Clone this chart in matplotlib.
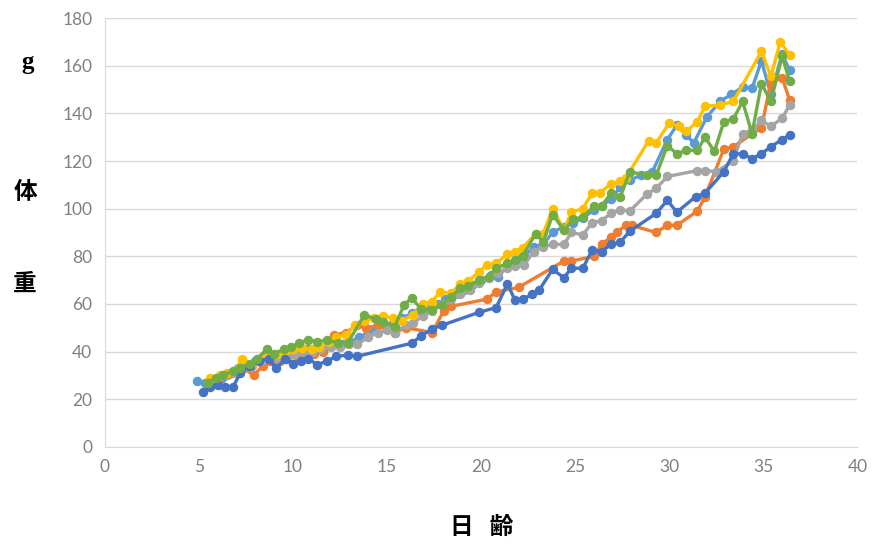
import matplotlib
matplotlib.use("Agg")
import matplotlib.pyplot as plt

plt.rcParams['font.family'] = ['Noto Sans CJK JP', 'DejaVu Sans']

# data (day of age, body weight g)
s1_x = [4.9, 5.3, 5.8, 6.2, 6.7, 7.1, 7.6, 8.0, 8.5, 9.0, 9.4, 9.9, 10.3, 10.8, 11.2, 11.7, 12.1, 12.6, 13.0,
        13.5, 14.0, 14.4, 14.9, 15.3, 15.8, 16.3, 16.7, 17.2, 17.7, 18.1, 18.6, 19.1, 19.5, 20.0, 20.5, 20.9,
        21.4, 21.9, 22.3, 22.8, 23.3, 23.8, 24.4, 24.9, 25.4, 26.0, 26.4, 26.9, 27.4, 27.9, 28.5, 29.1, 29.9,
        30.4, 30.9, 31.3, 32.0, 32.7, 33.3, 33.9, 34.4, 34.9, 35.4, 36.0, 36.4]
s1_y = [27.5, 27, 28, 29, 31, 33, 34, 36, 38, 37, 39, 40, 40, 41, 41, 42, 43, 43, 44,
        46, 48, 50, 51, 52, 54, 56, 57, 58, 60, 62, 64, 66, 68, 70, 72, 71.5,
        76, 79, 80, 84, 85, 90, 92.5, 94, 96, 99.5, 101, 104, 109, 112, 114, 115.5, 129,
        135, 131, 127.5, 138.5, 145, 148, 151, 150.5, 162, 148, 165, 158]

s2_x = [5.6, 6.0, 6.5, 7.0, 7.4, 7.9, 8.4, 8.8, 9.3, 9.7, 10.2, 10.7, 11.1, 11.6, 12.2, 12.8, 13.4, 13.9,
        14.5, 14.9, 15.4, 16.0, 17.4, 18.0, 18.4, 20.3, 20.8, 22.0, 24.4, 24.8, 26.0, 26.4, 26.9, 27.2,
        27.7, 28.0, 29.3, 29.9, 30.4, 31.5, 31.9, 32.9, 33.4, 34.9, 35.4, 36.0, 36.4]
s2_y = [27, 28, 30, 32, 33, 30, 34, 36, 36, 37, 38, 38, 39, 40, 47, 48, 51, 50,
        51, 51, 48, 50, 48, 57, 59, 62, 65, 67, 78, 78, 80, 85, 88, 90,
        93, 93, 90, 93, 93, 99, 105, 125, 126, 134, 153, 155, 145.5]

s3_x = [5.5, 6.0, 6.4, 6.9, 7.3, 7.8, 8.3, 8.7, 9.2, 9.7, 10.1, 10.6, 11.0, 11.5, 12.0, 12.5, 13.0, 13.4,
        14.0, 14.5, 15.0, 15.4, 16.0, 16.4, 16.9, 17.4, 17.9, 18.4, 18.9, 19.4, 19.9, 20.4, 20.9, 21.4,
        21.8, 22.3, 22.8, 23.3, 23.8, 24.4, 24.8, 25.4, 25.9, 26.4, 26.9, 27.4, 27.9, 28.8, 29.3, 29.9,
        31.5, 31.9, 32.5, 33.4, 33.9, 34.4, 34.9, 35.4, 36.0, 36.4]
s3_y = [27, 29, 30, 31, 33, 34, 36, 38, 37, 38, 39, 40, 40, 41, 42, 42, 43, 43,
        46, 48, 49, 48, 51, 52, 55, 57, 60, 62, 64, 66, 69, 71, 73, 75,
        76, 76.5, 82, 84, 85, 85, 90, 89, 94, 95, 98, 99.5, 99, 106, 108.5, 113.5,
        116, 116, 115.5, 120, 131.5, 133, 137, 134.5, 138, 143.5]

s4_x = [5.6, 6.1, 6.5, 6.9, 7.3, 7.8, 8.2, 8.7, 9.2, 9.6, 10.0, 10.5, 11.0, 11.4, 11.9, 12.3, 12.8, 13.3,
        13.8, 14.3, 14.8, 15.3, 15.8, 16.4, 16.9, 17.4, 17.8, 18.4, 18.9, 19.3, 19.9, 20.3, 20.8, 21.4,
        21.8, 22.2, 22.9, 23.3, 23.8, 24.4, 24.8, 25.4, 25.9, 26.3, 26.9, 27.4, 27.7, 28.9, 29.3, 30.0,
        30.5, 30.9, 31.5, 31.9, 32.7, 33.4, 34.9, 35.4, 35.9, 36.4]
s4_y = [29, 30, 31, 32, 37, 35, 37, 39, 39, 40, 41, 41.5, 41, 42, 44, 46, 47, 51,
        53, 54, 55, 54, 53, 55.5, 60, 61, 65, 64.5, 68.5, 69.5, 73.5, 76.5, 77, 81,
        82, 83.5, 89.5, 89.5, 100, 91, 98.5, 100, 106.5, 106.5, 110.5, 111.5, 113, 128.5, 127.5, 136,
        134.5, 132.5, 136.5, 143, 143.5, 145, 166, 155.5, 170, 164.5]

s5_x = [5.2, 5.6, 6.0, 6.4, 6.8, 7.2, 7.7, 8.2, 8.7, 9.1, 9.6, 10.0, 10.4, 10.8, 11.3, 11.8, 12.3, 12.9,
        13.4, 16.3, 16.8, 17.4, 17.9, 19.9, 20.8, 21.4, 21.8, 22.2, 22.7, 23.1, 23.8, 24.4, 24.8, 25.4,
        25.9, 26.4, 26.9, 27.4, 27.9, 29.3, 29.9, 30.4, 31.4, 31.9, 32.9, 33.4, 33.9, 34.4, 34.9, 35.4,
        36.0, 36.4]
s5_y = [23, 25, 26, 25, 25, 31, 34, 36, 37, 33, 37, 35, 36, 37, 34.5, 36, 38, 38.5,
        38, 43.5, 46.5, 49.5, 51, 56.5, 58.5, 68.5, 61.5, 62, 64, 66, 74.5, 71, 75, 75,
        82.5, 82, 85, 86, 90.5, 98, 103.5, 98.5, 105, 106.5, 115.5, 123, 123, 121, 123, 126,
        129, 131]

s6_x = [5.5, 5.9, 6.3, 6.8, 7.2, 7.7, 8.1, 8.6, 9.0, 9.5, 9.9, 10.3, 10.8, 11.3, 11.8, 12.4, 12.9, 13.8,
        14.4, 14.8, 15.4, 15.9, 16.3, 16.8, 17.4, 17.9, 18.4, 18.9, 19.3, 19.9, 20.4, 20.8, 21.4, 21.8,
        22.2, 22.9, 23.3, 23.8, 24.4, 24.9, 25.4, 26.0, 26.4, 26.9, 27.4, 27.9, 28.8, 29.3, 29.9, 30.4,
        30.9, 31.5, 31.9, 32.4, 32.9, 33.4, 33.9, 34.4, 34.9, 35.4, 36.0, 36.4]
s6_y = [27, 29, 30, 32, 33, 35, 37, 41, 39, 41, 42, 43.5, 45, 44, 45, 43.5, 43.5, 55.5,
        53.5, 52.5, 50.5, 59.5, 62.5, 58, 57.5, 59.5, 63, 66.5, 67.5, 70, 71.5, 75, 77, 78.5,
        80, 89.5, 86, 97.5, 91, 95.5, 96.5, 101, 101, 106.5, 105, 115.5, 114, 114, 126.5, 123,
        124.5, 124.5, 130, 124, 136.5, 137.5, 145, 131.5, 152.5, 145, 164, 153.5]

series = [
    (s1_x, s1_y, '#5B9BD5'),
    (s2_x, s2_y, '#ED7D31'),
    (s3_x, s3_y, '#A5A5A5'),
    (s4_x, s4_y, '#FFC000'),
    (s5_x, s5_y, '#4472C4'),
    (s6_x, s6_y, '#70AD47'),
]

fig = plt.figure(figsize=(8.74, 5.47), dpi=100)
ax = fig.add_axes([0.120, 0.183, 0.861, 0.784])

for xs, ys, c in series:
    ax.plot(xs, ys, color=c, lw=2.4, marker='o', ms=5.8, mec=c, mfc=c)

ax.set_xlim(0, 40)
ax.set_ylim(0, 180)
ax.set_xticks(range(0, 41, 5))
ax.set_yticks(range(0, 181, 20))
ax.grid(axis='y', color='#d9d9d9', lw=1)
ax.set_axisbelow(True)
ax.tick_params(length=0, labelsize=12.5, colors='#808080', pad=9)
for lab in ax.get_xticklabels() + ax.get_yticklabels():
    lab.set_family('Lato')
for side in ['top', 'right']:
    ax.spines[side].set_visible(False)
for side in ['left', 'bottom']:
    ax.spines[side].set_color('#d9d9d9')

fig.text(28 / 874, 1 - 63 / 547, 'g', fontsize=18, fontweight='bold', family='Liberation Serif',
         ha='center', va='center')
fig.text(25 / 874, 1 - 192 / 547, '体', fontsize=17, fontweight='bold', ha='center', va='center')
fig.text(25 / 874, 1 - 284 / 547, '重', fontsize=17, fontweight='bold', ha='center', va='center')
fig.text(482 / 874, 1 - 527 / 547, '日   齢', fontsize=17, fontweight='bold', ha='center', va='center')

fig.savefig('out.png', dpi=100)
